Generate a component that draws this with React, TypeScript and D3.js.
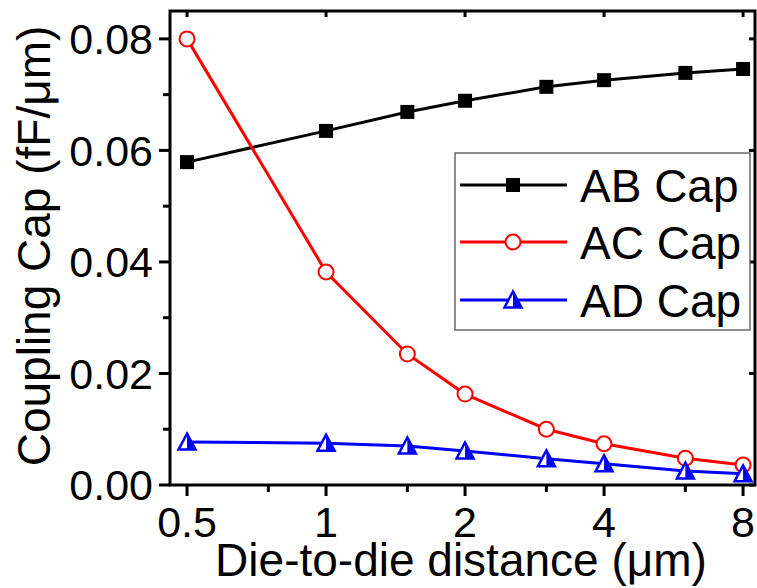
import React from "react";
import * as d3 from "d3";

// distances in um
const distances = [0.5, 1, 1.5, 2, 3, 4, 6, 8];
const abCap = [0.0579, 0.0635, 0.0669, 0.0689, 0.0714, 0.0726, 0.0739, 0.0746];
const acCap = [0.08, 0.0382, 0.0235, 0.0163, 0.01, 0.0074, 0.0048, 0.0036];
const adCap = [0.0077, 0.0075, 0.007, 0.0061, 0.0047, 0.0038, 0.0025, 0.002];

const xMajor = [0.5, 1, 2, 4, 8];
const xMinor = [0.75, 1.5, 3, 6];
const yMajor = [0, 0.02, 0.04, 0.06, 0.08];
const yMinor = [0.01, 0.03, 0.05, 0.07];

const seriesNames = ["AB Cap", "AC Cap", "AD Cap"];

const W = 757, H = 588;
const left = 170, right = 755, top = 11, bottom = 485;
const FONT = "'Liberation Sans', Arial, sans-serif";

function Marker({ kind, x, y, color }: { kind: string; x: number; y: number; color: string }) {
  if (kind === "square") {
    return <rect x={x - 7} y={y - 7} width={14} height={14} fill={color} />;
  }
  if (kind === "circle") {
    return <circle cx={x} cy={y} r={7.5} fill="white" stroke={color} strokeWidth={2} />;
  }
  // half filled triangle (right half solid)
  const h = 15, w = 17;
  const pts = `${x},${y - h / 2 - 1} ${x + w / 2},${y + h / 2} ${x - w / 2},${y + h / 2}`;
  const half = `${x},${y - h / 2 - 1} ${x + w / 2},${y + h / 2} ${x},${y + h / 2}`;
  return (
    <g>
      <polygon points={pts} fill="white" stroke={color} strokeWidth={2.5} />
      <polygon points={half} fill={color} />
    </g>
  );
}

export default function App() {
  const x = d3.scaleLog().base(2).domain([0.4593, 8.49]).range([left, right]);
  const y = d3.scaleLinear().domain([0, 0.085]).range([bottom, top]);

  const line = d3.line<[number, number]>()
    .x(d => x(d[0]))
    .y(d => y(d[1]));

  const series = [
    { name: seriesNames[0], values: abCap, color: "#000000", kind: "square" },
    { name: seriesNames[1], values: acCap, color: "#ff0000", kind: "circle" },
    { name: seriesNames[2], values: adCap, color: "#0000ff", kind: "triangle" },
  ];

  const legendX = 455, legendY = 153, legendW = 295, legendH = 177;
  const rowY = [185, 242, 300];

  return (
    <svg width={W} height={H} style={{ position: "absolute", left: 0, top: 0 }}>
      <rect width={W} height={H} fill="white" />

      {series.map(s => (
        <g key={s.name}>
          <path
            d={line(distances.map((d, i) => [d, s.values[i]] as [number, number])) || ""}
            fill="none"
            stroke={s.color}
            strokeWidth={3}
          />
          {distances.map((d, i) => (
            <Marker key={i} kind={s.kind} x={x(d)} y={y(s.values[i])} color={s.color} />
          ))}
        </g>
      ))}

      {/* frame */}
      <rect x={left} y={top} width={right - left} height={bottom - top} fill="none" stroke="black" strokeWidth={3} />

      {/* x ticks */}
      {xMajor.map(t => (
        <g key={"xM" + t}>
          <line x1={x(t)} x2={x(t)} y1={bottom} y2={bottom + 11} stroke="black" strokeWidth={3} />
          <line x1={x(t)} x2={x(t)} y1={top} y2={top + 6} stroke="black" strokeWidth={3} />
          <text x={x(t)} y={537} textAnchor="middle" fontFamily={FONT} fontSize={43}>{String(t)}</text>
        </g>
      ))}
      {xMinor.map(t => (
        <line key={"xm" + t} x1={x(t)} x2={x(t)} y1={bottom} y2={bottom + 7} stroke="black" strokeWidth={3} />
      ))}

      {/* y ticks */}
      {yMajor.map(t => (
        <g key={"yM" + t}>
          <line x1={left - 11} x2={left} y1={y(t)} y2={y(t)} stroke="black" strokeWidth={3} />
          <line x1={right - 6} x2={right} y1={y(t)} y2={y(t)} stroke="black" strokeWidth={3} />
          <text x={153} y={y(t)} dy="0.36em" textAnchor="end" fontFamily={FONT} fontSize={43}>{t.toFixed(2)}</text>
        </g>
      ))}
      {yMinor.map(t => (
        <line key={"ym" + t} x1={left - 7} x2={left} y1={y(t)} y2={y(t)} stroke="black" strokeWidth={3} />
      ))}

      {/* axis titles */}
      <text x={461} y={576} textAnchor="middle" fontFamily={FONT} fontSize={46}>Die-to-die distance (μm)</text>
      <text transform={`translate(50,246) rotate(-90)`} textAnchor="middle" fontFamily={FONT} fontSize={46}>Coupling Cap (fF/μm)</text>

      {/* legend */}
      <rect x={legendX} y={legendY} width={legendW} height={legendH} fill="white" stroke="#444" strokeWidth={1.2} />
      {series.map((s, i) => (
        <g key={"lg" + s.name}>
          <line x1={460} x2={567} y1={rowY[i]} y2={rowY[i]} stroke={s.color} strokeWidth={3} />
          <Marker kind={s.kind} x={513} y={rowY[i]} color={s.color} />
          <text x={580} y={rowY[i]} dy="0.36em" fontFamily={FONT} fontSize={46}>{s.name}</text>
        </g>
      ))}
    </svg>
  );
}
